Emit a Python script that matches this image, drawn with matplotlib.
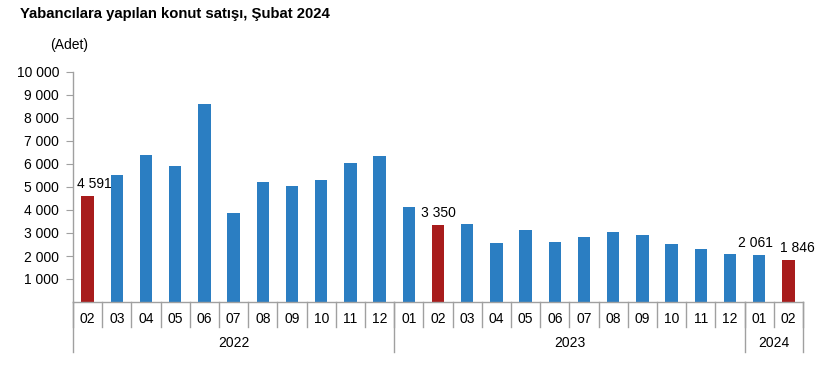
import matplotlib
matplotlib.use("Agg")
import matplotlib.pyplot as plt
import matplotlib.transforms as mtransforms

plt.rcParams["font.family"] = ["Liberation Sans", "DejaVu Sans"]

# data
months = ["02", "03", "04", "05", "06", "07", "08", "09", "10", "11", "12",
          "01", "02", "03", "04", "05", "06", "07", "08", "09", "10", "11", "12",
          "01", "02"]
years = ["2022", "2023", "2024"]
year_counts = [11, 12, 2]
sales = [4591, 5530, 6400, 5910, 8600, 3890, 5220, 5030, 5320, 6050, 6360,
         4150, 3350, 3400, 2570, 3150, 2610, 2820, 3050, 2900, 2510, 2310, 2070,
         2061, 1846]
highlight = [0, 12, 24]
labelled = {0: "4 591", 12: "3 350", 23: "2 061", 24: "1 846"}
label_dx = {0: 7, 12: 0, 23: -4, 24: 9}   # pixel nudges of the value labels

blue, red, grey = "#2B7EC2", "#A81C1C", "#A0A0A0"

W, H = 839, 377
fig = plt.figure(figsize=(W / 100, H / 100), dpi=100)
ax = fig.add_axes([73 / W, 1 - 302 / H, 730 / W, 230 / H])

x = list(range(len(sales)))
colors = [red if i in highlight else blue for i in x]
ax.bar(x, sales, width=0.42, color=colors, zorder=2)

ax.set_xlim(-0.5, len(sales) - 0.5)
ax.set_ylim(0, 10000)
ax.set_yticks(range(1000, 10001, 1000))
ax.set_yticklabels([f"{v // 1000} 000" for v in range(1000, 10001, 1000)], fontsize=10)
ax.tick_params(axis="y", length=5, color=grey, pad=5)
ax.set_xticks([])
for s in ("top", "right"):
    ax.spines[s].set_visible(False)
for s in ("left", "bottom"):
    ax.spines[s].set_color(grey)
    ax.spines[s].set_linewidth(1)

# value labels
for i, txt in labelled.items():
    ax.annotate(txt, (x[i], sales[i]), xytext=(label_dx[i], 5),
                textcoords="offset pixels", ha="center", va="bottom", fontsize=10)

# category axis: month labels, separators, year labels
tr = mtransforms.blended_transform_factory(ax.transData, ax.transAxes)
month_bot = -25 / 230
year_bot = -50 / 230
for i, m in enumerate(months):
    ax.text(x[i], -17 / 230, m, transform=tr, ha="center", va="center", fontsize=10)
for b in range(len(months) + 1):
    ax.plot([b - 0.5, b - 0.5], [0, month_bot], transform=tr, color=grey,
            lw=1, clip_on=False)
start = 0
for yr, n in zip(years, year_counts):
    ax.plot([start - 0.5, start - 0.5], [0, year_bot], transform=tr, color=grey,
            lw=1, clip_on=False)
    ax.text(start + (n - 1) / 2, -41 / 230, yr, transform=tr, ha="center",
            va="center", fontsize=10)
    start += n
ax.plot([start - 0.5, start - 0.5], [0, year_bot], transform=tr, color=grey,
        lw=1, clip_on=False)

fig.text(20 / W, 1 - 14 / H, "Yabancılara yapılan konut satışı, Şubat 2024",
         fontsize=10.7, fontweight="bold", va="center", ha="left")
fig.text(69 / W, 1 - 45 / H, "(Adet)", fontsize=10, va="center", ha="center")

fig.savefig("out.png", dpi=100)
